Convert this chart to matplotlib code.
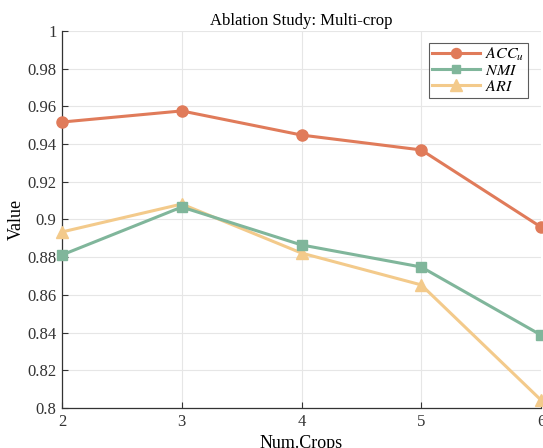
import matplotlib
matplotlib.use("Agg")
import matplotlib.pyplot as plt

plt.rcParams['font.family'] = ['Liberation Serif', 'DejaVu Serif']
plt.rcParams['mathtext.fontset'] = 'stix'

crops = [2, 3, 4, 5, 6]
acc = [0.9517, 0.9576, 0.9448, 0.9369, 0.8960]
nmi = [0.8812, 0.9066, 0.8865, 0.8748, 0.8387]
ari = [0.8934, 0.9082, 0.8822, 0.8653, 0.8042]
yticks = [0.8, 0.82, 0.84, 0.86, 0.88, 0.9, 0.92, 0.94, 0.96, 0.98, 1]
ytick_labels = ['0.8', '0.82', '0.84', '0.86', '0.88', '0.9', '0.92', '0.94', '0.96', '0.98', '1']

fig = plt.figure(figsize=(5.43, 4.48), dpi=100)
ax = fig.add_axes([62/543, 40/448, 479/543, 377/448])

ax.plot(crops, acc, color='#E07B5A', lw=2.2, marker='o', ms=8, label=r'$ACC_u$', clip_on=False, zorder=5)
ax.plot(crops, nmi, color='#80B69B', lw=2.2, marker='s', ms=6.5, label=r'$NMI$', clip_on=False, zorder=4)
ax.plot(crops, ari, color='#F3CA8B', lw=2.2, marker='^', ms=9, label=r'$ARI$', clip_on=False, zorder=3)

ax.set_xlim(2, 6)
ax.set_ylim(0.8, 1)
ax.set_xticks(crops)
ax.set_yticks(yticks)
ax.set_yticklabels(ytick_labels)
ax.grid(True, color='#e6e6e6', lw=0.8)
ax.set_axisbelow(True)
for s in ['top', 'right']:
    ax.spines[s].set_visible(False)
for s in ['left', 'bottom']:
    ax.spines[s].set_color('#333333')
    ax.spines[s].set_linewidth(0.9)
ax.tick_params(direction='in', length=4, labelsize=12, colors='#333333', pad=4)
ax.set_title('Ablation Study: Multi-crop', fontsize=12, pad=4)
ax.set_xlabel('Num.Crops', fontsize=13, labelpad=4)
ax.set_ylabel('Value', fontsize=13)
ax.yaxis.set_label_coords(-0.078, 0.5)

leg = ax.legend(loc='upper right', bbox_to_anchor=(0.972, 0.969), fontsize=11.5, frameon=True,
                fancybox=False, edgecolor='#333333', handlelength=3.0, borderpad=0.2,
                labelspacing=0.0, handletextpad=0.3, markerscale=0.9, borderaxespad=0)
leg.get_frame().set_linewidth(0.8)

fig.savefig('out.png', dpi=100)
